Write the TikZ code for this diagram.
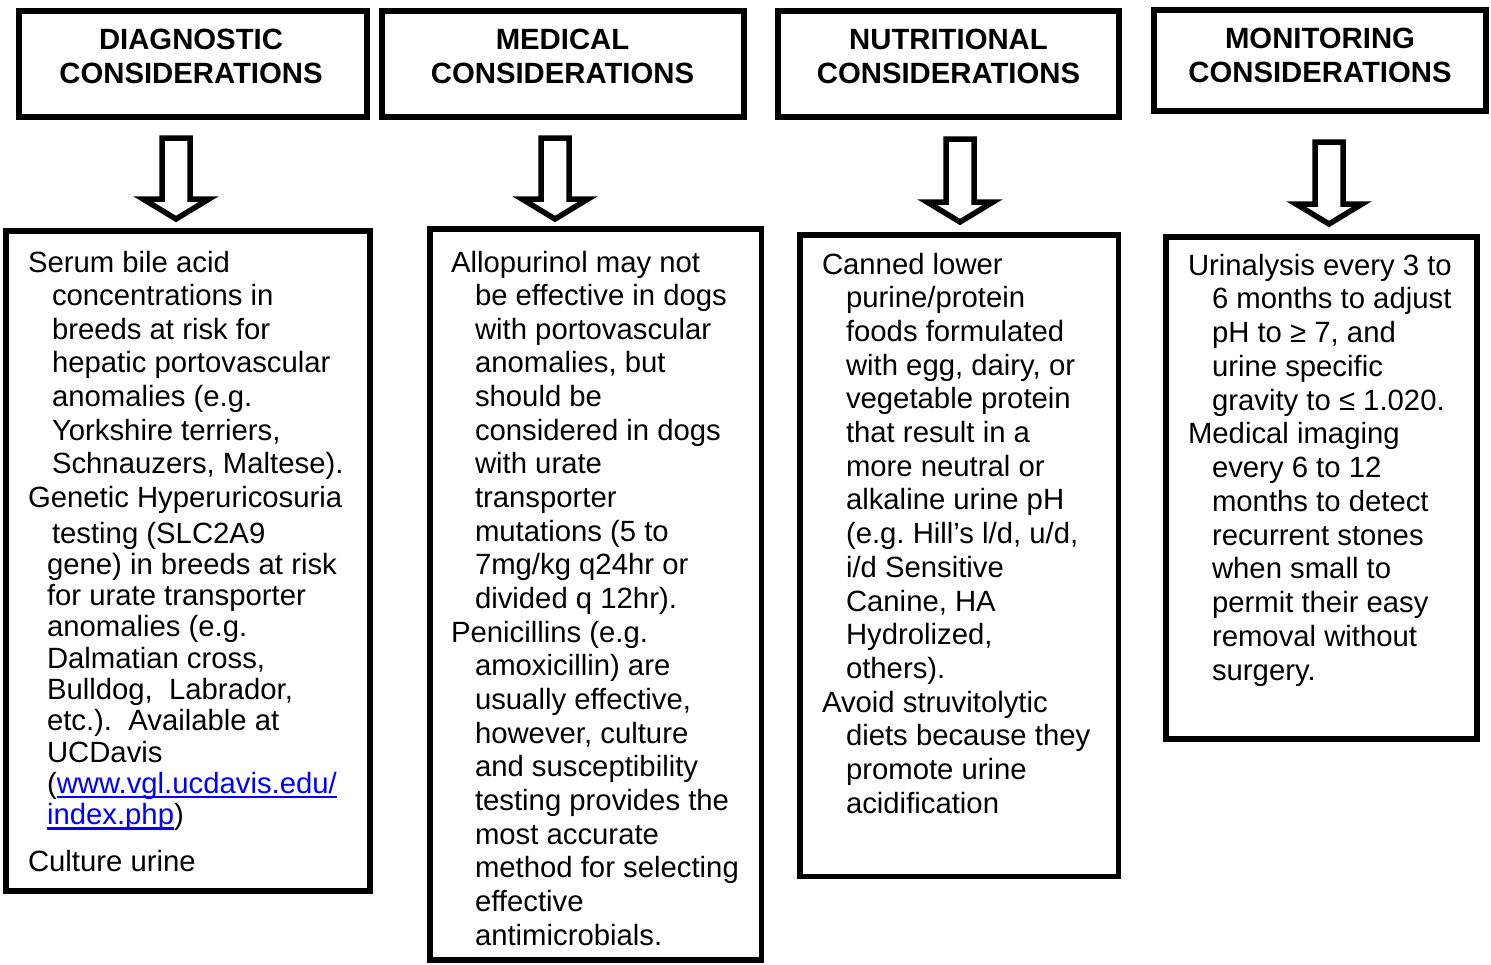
\documentclass[tikz,border=0pt]{standalone}
\usepackage{fontspec}
\setmainfont{Liberation Sans}
\definecolor{linkblue}{RGB}{0,0,255}
\frenchspacing
\tikzset{
  hbox/.style={draw, line width=6pt, rectangle, inner sep=0pt},
  bbox/.style={draw, line width=5.5pt, rectangle, inner sep=0pt},
  txt/.style={anchor=base west, inner sep=0pt, outer sep=0pt, font=\fontsize{29.3}{33.7}\selectfont},
  htxt/.style={anchor=base, inner sep=0pt, font=\fontsize{29.3}{33.7}\selectfont\bfseries},
  barrow/.style={draw, line width=5.5pt, fill=white, line join=miter, miter limit=10},
}
\newcommand\blockarrow[4]{%
  \draw[barrow] (#1-14,#2) -- (#1+14,#2) -- (#1+14,#3) -- (#1+33,#3) -- (#1,#4) -- (#1-33,#3) -- (#1-14,#3) -- cycle;}
\begin{document}
\begin{tikzpicture}[x=1pt,y=-1pt]
\useasboundingbox (0,0) rectangle (1491,964);

% header boxes
\node[hbox, minimum width=348, minimum height=106] (h1) at (192.5,63.5) {};
\node[hbox, minimum width=362, minimum height=106] (h2) at (562.5,63.5) {};
\node[hbox, minimum width=341, minimum height=106] (h3) at (948.5,63.5) {};
\node[hbox, minimum width=332, minimum height=101] (h4) at (1320,60.5) {};

\node[htxt] (h1a) at (191,49) {DIAGNOSTIC};
\node[htxt] (h1b) at (191,83.5) {CONSIDERATIONS};
\node[htxt] (h2a) at (562.5,49) {MEDICAL};
\node[htxt] (h2b) at (562.5,83.5) {CONSIDERATIONS};
\node[htxt] (h3a) at (948.5,49) {NUTRITIONAL};
\node[htxt] (h3b) at (948.5,83.5) {CONSIDERATIONS};
\node[htxt] (h4a) at (1320,48) {MONITORING};
\node[htxt] (h4b) at (1320,82.5) {CONSIDERATIONS};

% block arrows
\blockarrow{176}{138}{199}{219}
\blockarrow{555}{138}{199}{219}
\blockarrow{960}{139}{202}{222}
\blockarrow{1329}{142}{204}{224}

% body boxes
\node[bbox, minimum width=364, minimum height=660] (b1) at (188,561) {};
\node[bbox, minimum width=331.5, minimum height=731] (b2) at (595.75,594.5) {};
\node[bbox, minimum width=318.5, minimum height=641.5] (b3) at (959.25,555.75) {};
\node[bbox, minimum width=311, minimum height=502] (b4) at (1321.5,488) {};

% diagnostic text
\foreach \xx/\yy/\tt [count=\i] in {
  28/272/{Serum bile acid},
  52/305.6/{concentrations in},
  52/339.2/{breeds at risk for},
  52/372.8/{hepatic portovascular},
  52/406.4/{anomalies (e.g.},
  52/440/{Yorkshire terriers,},
  52/473.6/{Schnauzers, Maltese).},
  28/507.2/{Genetic Hyperuricosuria},
  52/543/{testing (SLC2A9},
  47/574.3/{gene) in breeds at risk},
  47/605.6/{for urate transporter},
  47/636.9/{anomalies (e.g.},
  47/668.2/{Dalmatian cross,},
  47/699.5/{Bulldog,\ \ Labrador,},
  47/730.8/{etc.).\ \ Available at},
  47/762.1/{UCDavis},
  28/871/{Culture urine}}
  {\node[txt] (dg\i) at (\xx,\yy) {\tt};}
\node[txt] (lp) at (47,793.4) {(};
\node[txt, text=linkblue] (url1) at (lp.base east) {www.vgl.ucdavis.edu/};
\node[txt, text=linkblue] (url2) at (47,824.7) {index.php};
\node[txt] (rp) at (url2.base east) {)};
\draw[linkblue, line width=2.6pt] ([yshift=-3.5pt]url1.base west) -- ([yshift=-3.5pt]url1.base east);
\draw[linkblue, line width=2.6pt] ([yshift=-3.5pt]url2.base west) -- ([yshift=-3.5pt]url2.base east);

% medical text
\foreach \xx/\tt [count=\i from 0] in {
  451/{Allopurinol may not},
  475/{be effective in dogs},
  475/{with portovascular},
  475/{anomalies, but},
  475/{should be},
  475/{considered in dogs},
  475/{with urate},
  475/{transporter},
  475/{mutations (5 to},
  475/{7mg/kg q24hr or},
  475/{divided q 12hr).},
  451/{Penicillins (e.g.},
  475/{amoxicillin) are},
  475/{usually effective,},
  475/{however, culture},
  475/{and susceptibility},
  475/{testing provides the},
  475/{most accurate},
  475/{method for selecting},
  475/{effective},
  475/{antimicrobials.}}
  {\node[txt] (md\i) at (\xx,272+33.65*\i) {\tt};}

% nutritional text
\foreach \xx/\tt [count=\i from 0] in {
  822/{Canned lower},
  846/{purine/protein},
  846/{foods formulated},
  846/{with egg, dairy, or},
  846/{vegetable protein},
  846/{that result in a},
  846/{more neutral or},
  846/{alkaline urine pH},
  846/{(e.g. Hill’s l/d, u/d,},
  846/{i/d Sensitive},
  846/{Canine, HA},
  846/{Hydrolized,},
  846/{others).},
  822/{Avoid struvitolytic},
  846/{diets because they},
  846/{promote urine},
  846/{acidification}}
  {\node[txt] (nt\i) at (\xx,274+33.7*\i) {\tt};}

% monitoring text
\foreach \xx/\tt [count=\i from 0] in {
  1188/{Urinalysis every 3 to},
  1212/{6 months to adjust},
  1212/{pH to ≥ 7, and},
  1212/{urine specific},
  1212/{gravity to ≤ 1.020.},
  1188/{Medical imaging},
  1212/{every 6 to 12},
  1212/{months to detect},
  1212/{recurrent stones},
  1212/{when small to},
  1212/{permit their easy},
  1212/{removal without},
  1212/{surgery.}}
  {\node[txt] (mn\i) at (\xx,275+33.75*\i) {\tt};}
\end{tikzpicture}
\end{document}
